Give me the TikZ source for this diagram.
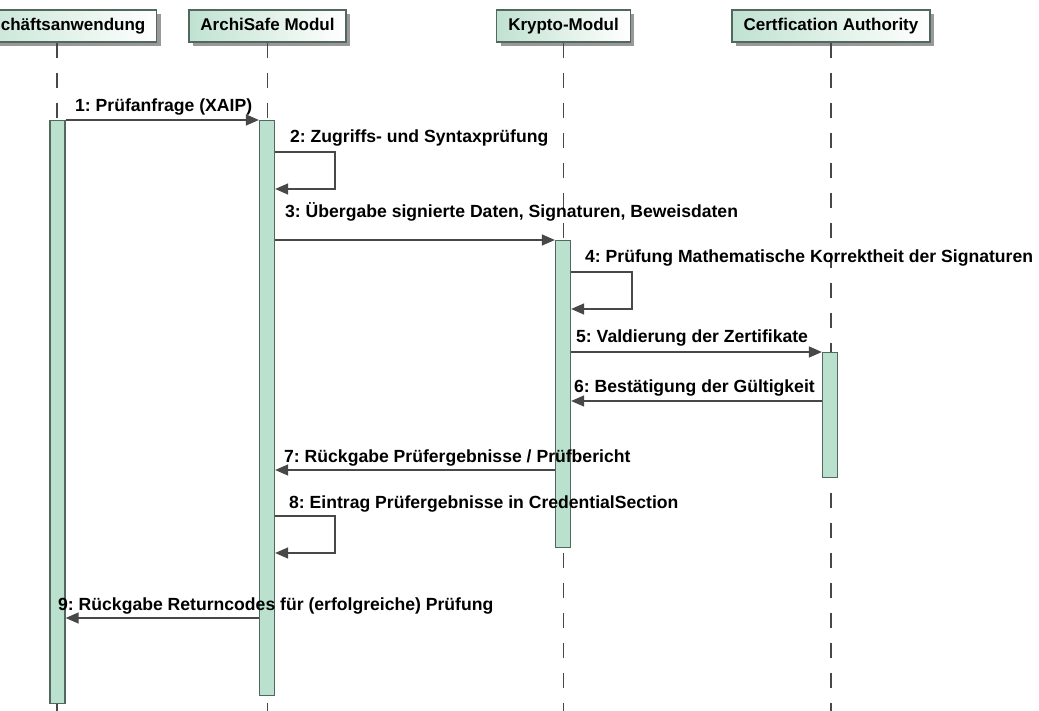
\documentclass[tikz,border=0pt]{standalone}
\usepackage{fontspec}
\setmainfont{Liberation Sans}
\usetikzlibrary{arrows.meta,shadows}
\frenchspacing

\definecolor{barfill}{RGB}{186,224,206}
\definecolor{barline}{RGB}{82,104,94}
\definecolor{headfill}{RGB}{192,226,209}
\definecolor{msgline}{RGB}{72,72,72}

\tikzset{
	head/.style={draw=barline, line width=1.3pt, minimum height=32pt, inner xsep=11.5pt, text height=12.5pt, text depth=3.5pt, left color=headfill, right color=white, drop shadow={shadow xshift=4pt, shadow yshift=-4pt, fill=black!40, opacity=1}, font=\fontsize{17}{20}\selectfont\bfseries},
	lifeline/.style={draw=msgline, line width=1.2pt, dash pattern=on 15pt off 15pt},
	actbar/.style={draw=barline, fill=barfill, line width=1.3pt, minimum width=15pt, anchor=north, inner sep=0pt},
	msg/.style={draw=msgline, line width=1.4pt, -{Triangle[length=13pt,width=11pt]}},
	msglabel/.style={anchor=base west, inner sep=0pt, font=\fontsize{17.6}{20}\selectfont\bfseries}
}

\begin{document}
\begin{tikzpicture}[x=1pt, y=-1pt]
		\path[use as bounding box, clip] (0,0) rectangle (1039,711);
		\coordinate (bottom) at (0,711);
		
		\node[head] (hGA) at (57,26) {Geschäftsanwendung};
		\node[head] (hAS) at (267.5,26) {ArchiSafe Modul};
		\node[head] (hKM) at (563.5,26) {Krypto-Modul};
		\node[head] (hCA) at (831,26) {Certfication Authority};
		
		\draw[lifeline] (hGA.south) -- (hGA.south |- bottom);
		\draw[lifeline] (hAS.south) -- (hAS.south |- bottom);
		\draw[lifeline] (hKM.south) -- (hKM.south |- bottom);
		\draw[lifeline] (hCA.south) -- (hCA.south |- bottom);
		
		\node[actbar, minimum height=583pt] (bGA) at (57.5,120) {};
		\node[actbar, minimum height=575pt] (bAS) at (267,120) {};
		\node[actbar, minimum height=307pt] (bKM) at (563,240) {};
		\node[actbar, minimum height=125pt] (bCA) at (830,352) {};
		
		\draw[msg] (bGA.north east) -- (bAS.north west);
		\draw[msg] (bAS.east |- 0,152) -- ++(60,0) |- (bAS.east |- 0,189);
		\draw[msg] (bAS.east |- bKM.north) -- (bKM.north west);
		\draw[msg] (bKM.east |- 0,272) -- ++(61,0) |- (bKM.east |- 0,309);
		\draw[msg] (bKM.east |- bCA.north) -- (bCA.north west);
		\draw[msg] (bCA.west |- 0,401) -- (bKM.east |- 0,401);
		\draw[msg] (bKM.west |- 0,470) -- (bAS.east |- 0,470);
		\draw[msg] (bAS.east |- 0,516) -- ++(60,0) |- (bAS.east |- 0,553);
		\draw[msg] (bAS.west |- 0,618) -- (bGA.east |- 0,618);
		
		\node[msglabel] (l1) at (75,112) {1: Prüfanfrage (XAIP)};
		\node[msglabel] (l2) at (290,143) {2: Zugriffs- und Syntaxprüfung};
		\node[msglabel] (l3) at (285,218) {3: Übergabe signierte Daten, Signaturen, Beweisdaten};
		\node[msglabel] (l4) at (585,263) {4: Prüfung Mathematische Korrektheit der Signaturen};
		\node[msglabel] (l5) at (576,343) {5: Valdierung der Zertifikate};
		\node[msglabel] (l6) at (574,392) {6: Bestätigung der Gültigkeit};
		\node[msglabel] (l7) at (284,462) {7: Rückgabe Prüfergebnisse / Prüfbericht};
		\node[msglabel] (l8) at (289,508) {8: Eintrag Prüfergebnisse in CredentialSection};
		\node[msglabel] (l9) at (58,610) {9: Rückgabe Returncodes für (erfolgreiche) Prüfung};
	\end{tikzpicture}
\end{document}
